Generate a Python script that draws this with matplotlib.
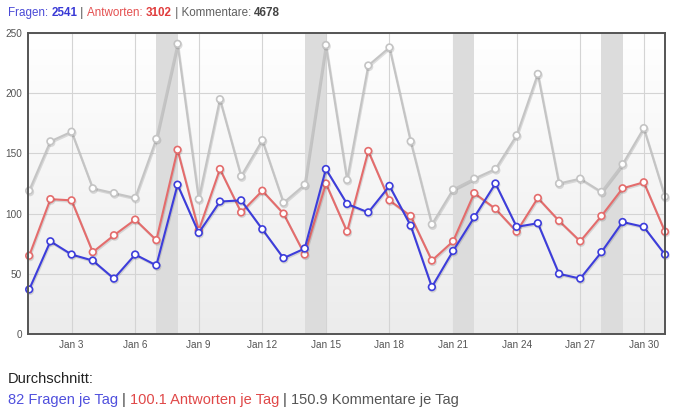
import numpy as np
import matplotlib
matplotlib.use('Agg')
import matplotlib.pyplot as plt
import matplotlib.patheffects as pe

plt.rcParams['font.family'] = ['Liberation Sans', 'DejaVu Sans']

# daily counts, January (day 1..31)
days = list(range(1, 32))
fragen = [37, 77, 66, 61, 46, 66, 57, 124, 84, 110, 111, 87, 63, 71, 137, 108,
          101, 123, 90, 39, 69, 97, 125, 89, 92, 50, 46, 68, 93, 89, 66]
antworten = [65, 112, 111, 68, 82, 95, 78, 153, 86, 137, 101, 119, 100, 66, 125, 85,
             152, 111, 98, 61, 77, 117, 104, 85, 113, 94, 77, 98, 121, 126, 85]
kommentare = [119, 160, 168, 121, 117, 113, 162, 241, 112, 195, 131, 161, 109, 124, 240, 128,
              223, 238, 160, 91, 120, 129, 137, 165, 216, 125, 129, 118, 141, 171, 114]
weekend_starts = [7, 14, 21, 28]
xtick_days = [3, 6, 9, 12, 15, 18, 21, 24, 27, 30]
yticks = [0, 50, 100, 150, 200, 250]

blue = '#3d3ddb'
red = '#e46c6c'
grey = '#c4c4c4'

fig = plt.figure(figsize=(6.8, 4.15), dpi=100)
W, H = 680, 415
ax = fig.add_axes([27.5 / W, 1 - 334 / H, (665 - 27.5) / W, (334 - 33) / H])

ax.set_xlim(0.92, 31)
ax.set_ylim(0, 250)

# gradient background
grad = np.linspace(0, 1, 256).reshape(-1, 1)
ax.imshow(grad, extent=[0, 1, 0, 1], transform=ax.transAxes, aspect='auto',
          cmap=matplotlib.colors.LinearSegmentedColormap.from_list('bg', ['#ececec', '#ffffff']),
          origin='lower', zorder=0)

for d in weekend_starts:
    ax.axvspan(d, d + 1, color='#dcdcdc', zorder=1, lw=0)

ax.set_xticks(xtick_days)
ax.set_xticklabels(['Jan %d' % d for d in xtick_days])
ax.set_yticks(yticks)
ax.grid(True, color='#d4d4d4', lw=0.8, zorder=1)
ax.set_axisbelow(True)
ax.tick_params(length=0, labelsize=7.2, colors='#545454', pad=4)

shadow = [pe.SimpleLineShadow(offset=(0.6, -1.0), alpha=0.12, rho=0.3), pe.Normal()]
for vals, col in [(kommentare, grey), (antworten, red), (fragen, blue)]:
    ax.plot(days, vals, color=col, lw=1.5, marker='o', ms=4.8, mfc='white', mec=col,
            mew=1.2, zorder=3, clip_on=False, path_effects=shadow)

for s in ax.spines.values():
    s.set_color('#545454')
    s.set_linewidth(1.4)
    s.set_zorder(4)


def colored_line(x, y, parts, size):
    fig.canvas.draw()
    r = fig.canvas.get_renderer()
    for txt, col, weight in parts:
        t = fig.text(x / W, 1 - y / H, txt, color=col, fontsize=size, fontweight=weight,
                     va='baseline', ha='left')
        bb = t.get_window_extent(renderer=r)
        x += bb.width


colored_line(8, 16, [('Fragen: ', '#4a4ad6', 'normal'), ('2541', '#3a3ad6', 'bold'),
                     (' | ', '#555555', 'normal'), ('Antworten: ', '#e45050', 'normal'),
                     ('3102', '#e03c3c', 'bold'), (' | Kommentare: ', '#606060', 'normal'),
                     ('4678', '#444444', 'bold')], 8.4)

fig.text(8 / W, 1 - 383 / H, 'Durchschnitt:', color='#222222', fontsize=10.5, va='baseline')
colored_line(8, 404, [('82 Fragen je Tag', '#5050dd', 'normal'), (' | ', '#333333', 'normal'),
                      ('100.1 Antworten je Tag', '#e04848', 'normal'), (' | ', '#333333', 'normal'),
                      ('150.9 Kommentare je Tag', '#555555', 'normal')], 10.5)

fig.savefig('out.png', dpi=100)
